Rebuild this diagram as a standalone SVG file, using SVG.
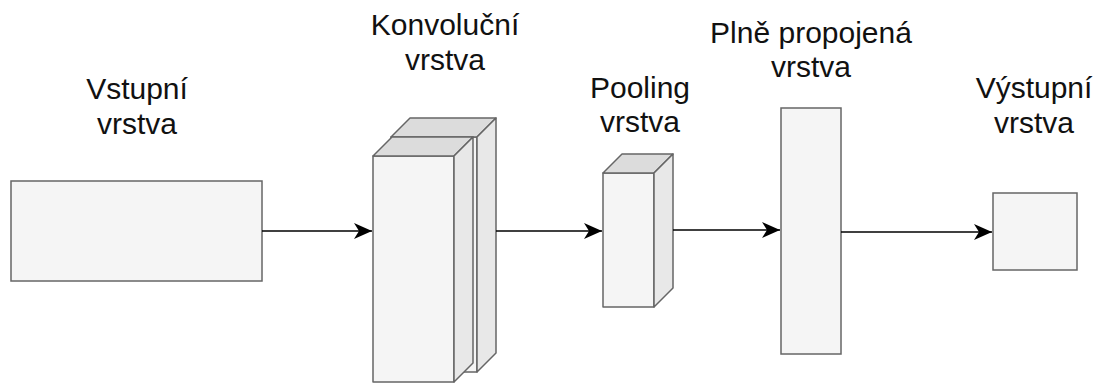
<svg xmlns="http://www.w3.org/2000/svg" width="1105" height="383" viewBox="0 0 1105 383">
  <style>
    .box { fill: #f5f5f5; stroke: #666666; stroke-width: 1.5; }
    .front { fill: #f5f5f5; stroke: #666666; stroke-width: 1.5; stroke-linejoin: round; }
    .top { fill: #dcdcdc; stroke: #666666; stroke-width: 1.5; stroke-linejoin: round; }
    .side { fill: #e8e8e8; stroke: #666666; stroke-width: 1.5; stroke-linejoin: round; }
    .label { font-family: "Liberation Sans", Arial, sans-serif; font-size: 30px; fill: #111111; text-anchor: middle; }
    .edge { fill: none; stroke: #000000; stroke-width: 1.5; }
  </style>
  <defs>
    <marker id="arrow" markerUnits="userSpaceOnUse" markerWidth="20" markerHeight="18" viewBox="-19 -9 20 18" refX="0" refY="0" orient="auto">
      <path d="M0,0 L-18,-8 L-13,0 L-18,8 Z" fill="#000000"/>
    </marker>
  </defs>

  <!-- Input layer -->
  <g id="input-layer">
    <rect class="box" x="11" y="181" width="251" height="100"/>
    <text class="label" x="137" y="99">Vstupní</text>
    <text class="label" x="137" y="134">vrstva</text>
  </g>

  <!-- Convolutional layer: two stacked cuboids -->
  <g id="conv-layer">
    <!-- back cuboid: x=391 y=118 w=105 h=254 depth=19 -->
    <polygon class="front" points="391,137 477,137 477,372 391,372"/>
    <polygon class="top" points="391,137 410,118 496,118 477,137"/>
    <polygon class="side" points="477,137 496,118 496,353 477,372"/>
    <!-- front cuboid: x=373 y=137 w=100 h=245 depth=19 -->
    <polygon class="front" points="373,156 454,156 454,382 373,382"/>
    <polygon class="top" points="373,156 392,137 473,137 454,156"/>
    <polygon class="side" points="454,156 473,137 473,363 454,382"/>
    <text class="label" x="445" y="35">Konvoluční</text>
    <text class="label" x="445" y="70">vrstva</text>
  </g>

  <!-- Pooling layer: x=603 y=154 w=70 h=153 depth=19 -->
  <g id="pooling-layer">
    <polygon class="front" points="603,173 654,173 654,307 603,307"/>
    <polygon class="top" points="603,173 622,154 673,154 654,173"/>
    <polygon class="side" points="654,173 673,154 673,288 654,307"/>
    <text class="label" x="640" y="98">Pooling</text>
    <text class="label" x="640" y="132">vrstva</text>
  </g>

  <!-- Fully connected layer -->
  <g id="dense-layer">
    <rect class="box" x="781" y="108" width="60" height="246"/>
    <text class="label" x="811" y="43">Plně propojená</text>
    <text class="label" x="811" y="77">vrstva</text>
  </g>

  <!-- Output layer -->
  <g id="output-layer">
    <rect class="box" x="993" y="193" width="84" height="77"/>
    <text class="label" x="1034" y="98">Výstupní</text>
    <text class="label" x="1034" y="133">vrstva</text>
  </g>

  <!-- Connectors -->
  <g id="connectors">
    <path class="edge" d="M262,231 L372,231" marker-end="url(#arrow)"/>
    <path class="edge" d="M496,231 L602,231" marker-end="url(#arrow)"/>
    <path class="edge" d="M673,230 L780,230" marker-end="url(#arrow)"/>
    <path class="edge" d="M841,232 L992,232" marker-end="url(#arrow)"/>
  </g>
</svg>
